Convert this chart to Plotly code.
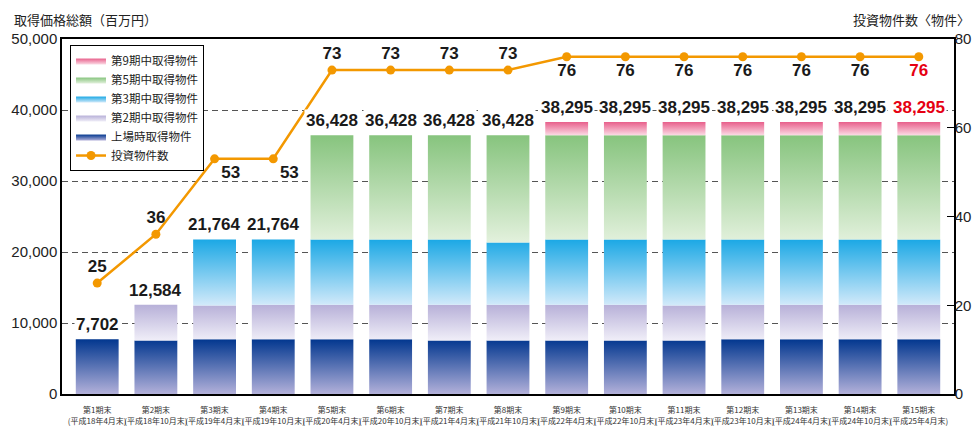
import plotly.graph_objects as go

# ---------------- data ----------------
periods = ["第1期末", "第2期末", "第3期末", "第4期末", "第5期末", "第6期末", "第7期末", "第8期末",
           "第9期末", "第10期末", "第11期末", "第12期末", "第13期末", "第14期末", "第15期末"]
dates = ["平成18年4月末", "平成18年10月末", "平成19年4月末", "平成19年10月末", "平成20年4月末",
         "平成20年10月末", "平成21年4月末", "平成21年10月末", "平成22年4月末", "平成22年10月末",
         "平成23年4月末", "平成23年10月末", "平成24年4月末", "平成24年10月末", "平成25年4月末"]

# acquisition price by acquisition stage (百万円)
listing = [7702, 7550, 7702, 7702, 7702, 7702, 7550, 7550, 7550, 7550, 7550, 7702, 7702, 7702, 7702]
stage2 = [0, 5034, 4748, 4882, 4882, 4882, 5034, 5034, 5034, 5034, 4900, 4882, 4882, 4882, 4882]
stage3 = [0, 0, 9314, 9180, 9180, 9180, 9180, 8766, 9180, 9180, 9314, 9180, 9180, 9180, 9180]
stage5 = [0, 0, 0, 0, 14664, 14664, 14664, 15078, 14664, 14664, 14664, 14664, 14664, 14664, 14664]
stage9 = [0, 0, 0, 0, 0, 0, 0, 0, 1867, 1867, 1867, 1867, 1867, 1867, 1867]

# number of properties
counts = [25, 36, 53, 53, 73, 73, 73, 73, 76, 76, 76, 76, 76, 76, 76]

left_ticks = [0, 10000, 20000, 30000, 40000, 50000]
right_ticks = [0, 20, 40, 60, 80]

# ---------------- layout constants ----------------
W, H = 973, 434
MT, MB, ML, MR = 39, 40, 62, 19
Y_MAX = 50000

series = [
    ("上場時取得物件", listing, "#b3b1da", "#02378f", 5),
    ("第2期中取得物件", stage2, "#f0eef8", "#b7b0d8", 4),
    ("第3期中取得物件", stage3, "#d3eafa", "#1ba8e5", 3),
    ("第5期中取得物件", stage5, "#e3f1dd", "#87c47e", 2),
    ("第9期中取得物件", stage9, "#fbdbe5", "#e8608c", 1),
]
half = 0.365
RED = "#e60012"
TXT = "#1a1a1a"
NUMFONT = "Liberation Sans, Arial"
JPFONT = "Noto Sans CJK JP"

fig = go.Figure()

n = len(periods)
base = [0] * n
for name, vals, c_bot, c_top, rank in series:
    xs, ys = [], []
    lo, hi = None, None
    for i in range(n):
        v = vals[i]
        if v <= 0:
            continue
        b, t = base[i], base[i] + v
        xs += [i - half, i + half, i + half, i - half, i - half, None]
        ys += [b, b, t, t, b, None]
        lo = b if lo is None else min(lo, b)
        hi = t if hi is None else max(hi, t)
        base[i] = t
    fig.add_trace(go.Scatter(
        x=xs, y=ys, name=name, mode="lines", fill="toself",
        line=dict(width=0), hoverinfo="skip", legendrank=rank,
        fillgradient=dict(type="vertical", start=lo, stop=hi,
                          colorscale=[[0, c_bot], [1, c_top]]),
    ))

totals = base[:]

text_pos = ["top center", "top center", "bottom right", "bottom right"] + ["top center"] * 4 + ["bottom center"] * 7
fig.add_trace(go.Scatter(
    x=list(range(n)), y=counts, yaxis="y2", name="投資物件数",
    mode="lines+markers+text",
    line=dict(color="#f39800", width=2.5),
    marker=dict(color="#f39800", size=9),
    text=[f"<b>{c}</b>" for c in counts],
    textposition=text_pos,
    textfont=dict(size=17, family=NUMFONT, color=[TXT] * (n - 1) + [RED]),
    hoverinfo="skip", legendrank=6,
))

for i, tot in enumerate(totals):
    fig.add_annotation(
        x=i, y=tot, xref="x", yref="y", text=f"<b>{tot:,}</b>",
        showarrow=False, yanchor="bottom", yshift=3,
        font=dict(size=17, family=NUMFONT, color=RED if i == n - 1 else TXT),
        bgcolor="white", borderpad=1,
    )

fig.add_annotation(x=0, y=1, xref="paper", yref="paper", xanchor="left", yanchor="top",
                   xshift=-50, yshift=31, text="取得価格総額（百万円）", showarrow=False,
                   font=dict(size=13, family=JPFONT, color="#222"))
fig.add_annotation(x=1, y=1, xref="paper", yref="paper", xanchor="right", yanchor="top",
                   xshift=18, yshift=31, text="投資物件数〈物件〉", showarrow=False,
                   font=dict(size=13, family=JPFONT, color="#222"))

fig.update_layout(
    width=W, height=H,
    margin=dict(l=ML, r=MR, t=MT, b=MB, autoexpand=False),
    plot_bgcolor="white", paper_bgcolor="white",
    showlegend=True,
    legend=dict(x=0.009, y=0.983, xanchor="left", yanchor="top",
                bgcolor="white", bordercolor="#000", borderwidth=1,
                font=dict(size=11.5, family=JPFONT, color="#222"),
                tracegroupgap=0, itemwidth=30),
    xaxis=dict(range=[-0.6, n - 0.4], tickmode="array", tickvals=list(range(n)),
               ticktext=[f"{p}<br>({d})" for p, d in zip(periods, dates)],
               tickangle=0, automargin=False, ticklabelstandoff=8,
               tickfont=dict(size=8, family="Liberation Sans Narrow, " + JPFONT, color="#333"),
               showgrid=False, zeroline=False, showline=True, linecolor="#000",
               linewidth=1.5, mirror=True, ticks=""),
    yaxis=dict(range=[0, Y_MAX], tickmode="array", tickvals=left_ticks,
               ticktext=[f"{v:,}" for v in left_ticks], automargin=False,
               tickfont=dict(size=15, family=NUMFONT, color="#222"),
               showgrid=True, gridcolor="#555", gridwidth=1, griddash="6px,4px",
               zeroline=False, showline=True, linecolor="#000", linewidth=1.5, ticks=""),
    yaxis2=dict(range=[0, 80], overlaying="y", side="right", tickmode="array",
                tickvals=right_ticks, ticks="inside", ticklen=7, tickcolor="#000",
                automargin=False, ticklabelstandoff=-4,
                tickfont=dict(size=15, family=NUMFONT, color="#222"),
                showgrid=False, zeroline=False, showline=True, linecolor="#000", linewidth=1.5),
)

fig.write_html("out.html", config={"displayModeBar": False},
               post_script="document.body.style.margin='0';document.body.style.padding='0';")
